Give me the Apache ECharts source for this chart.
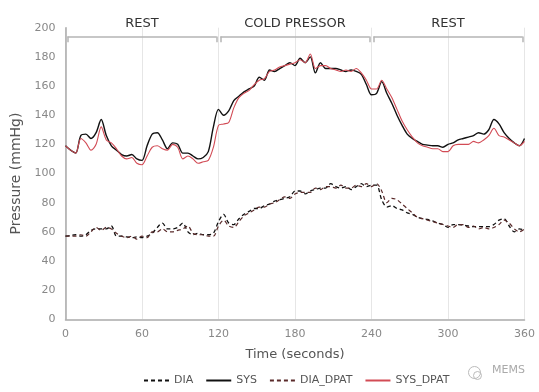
<!DOCTYPE html>
<html><head><meta charset="utf-8">
<script src="https://cdn.jsdelivr.net/npm/echarts@6/dist/echarts.min.js"></script>
<style>html,body{margin:0;padding:0;background:#fff}#c{width:539px;height:392px}</style>
</head><body><div id="c"></div>
<script>
// Sampling grid (seconds)
const times = [
  0,4,8,12,16,20,24,28,32,36,
  40,44,48,52,56,60,64,68,72,76,
  80,84,88,92,96,100,104,108,112,116,
  120,124,128,132,136,140,144,148,152,156,
  160,164,168,172,176,180,184,188,192,196,
  200,204,208,212,216,220,224,228,232,236,
  240,244,248,252,256,260,264,268,272,276,
  280,284,288,292,296,300,304,308,312,316,
  320,324,328,332,336,340,344,348,352,356,
  360];
const sys = [
  119,116,114,126,127,124,128,137,126,119,
  116,113,112,113,110,109,119,127,128,123,
  117,121,120,114,114,112,110,111,115,132,
  144,140,143,150,153,156,158,160,166,164,
  171,170,172,174,176,174,179,176,180,169,
  176,172,172,172,171,170,171,170,168,161,
  154,155,163,155,148,140,133,127,124,122,
  120,119.5,119,119,118,120,121,123,124,125,
  126,128,127,130,137,134,128,124,121,119,
  124];
const sysDpat = [
  119,116,114,124,121,116,120,132,123,121,
  117,112,110,111,107,106,112,118,119,117,
  116,120,118,110,112,110,107,108,109,118,
  133,134,135,145,152,155,157,161,164,165,
  170,171,173,174,175,176,178,176,182,172,
  174,174,172,171,170,171,170,172,169,164,
  158,158,164,158,152,144,136,130,125,121,
  119,118,117,117,115,115,119,120,120,120,
  122,121,123,126,131,126,125,123,121,119,
  122];
const dia = [
  57,57.5,58,57,58,61,62,62,62,64,
  57,57,56.5,56,56.5,56,57,59,63,66,
  62,62,63,66,60,58,59,58,58,59,
  67,72,66,65,69,72,74,76,76,78,
  79,81,82,83,84,88,88,86,88,89,
  90,90,93,91,90,91,89,91,93,91,
  92,92,82,77,78,76,75,73,72,70,
  69,68.5,67.5,66,65,63,65,65,64.5,64,
  63.5,63.5,63.5,63.5,65,68,69,64,60,62,
  61];
const diaDpat = [
  57,57,57,58,57,60,63,61,63,62,
  59,57,56,57,55,57,56,60,60,62,
  60,60,61,62,64,59,58,58,57,57,
  64,68,64,63,67,71,73,75,77,77,
  79,80,82,84,83,86,87,87,87,90,
  89,91,91,90,92,90,90,92,91,93,
  91,93,88,80,83,82,79,76,73,70,
  69,68,67,66,65,64,63,65,65,63,
  64,62,63,62,63,65,68,66,62,60,
  62];
const seriesNames = ['DIA','SYS','DIA_DPAT','SYS_DPAT'];
const phaseNames = ['REST','COLD PRESSOR','REST'];
const phaseStart = [0,120,240];
const phaseEnd = [120,240,360];
const bracketLevel = 194;
const bracketTickLevel = 190;

const FONT = 'DejaVu Sans';
const pairs = arr => times.map((t,i)=>[t, arr[i]]);

const bracketData = [];
phaseNames.forEach((name,i)=>{
  const s = phaseStart[i] + 1.5, e = phaseEnd[i] - 1.5;
  bracketData.push([{coord:[s,bracketLevel], label:{show:true, formatter:name}},{coord:[e,bracketLevel]}]);
  bracketData.push([{coord:[s,bracketLevel], label:{show:false}},{coord:[s,bracketTickLevel]}]);
  bracketData.push([{coord:[e,bracketLevel], label:{show:false}},{coord:[e,bracketTickLevel]}]);
});

const chart = echarts.init(document.getElementById('c'), null, {renderer:'canvas'});
chart.setOption({
  animation:false,
  backgroundColor:'#fff',
  textStyle:{fontFamily:FONT},
  grid:{left:65.5, right:14.5, top:27.7, bottom:72.7},
  legend:{
    data:seriesNames, left:138, top:370, itemWidth:25, itemHeight:10, itemGap:12,
    itemStyle:{color:'rgba(0,0,0,0)', borderColor:'rgba(0,0,0,0)', borderWidth:0},
    textStyle:{color:'#555', fontSize:11, fontFamily:FONT}
  },
  xAxis:{
    type:'value', min:0, max:360, interval:60,
    name:'Time (seconds)', nameLocation:'middle', nameGap:29,
    nameTextStyle:{color:'#555', fontSize:13, fontFamily:FONT},
    axisLine:{show:true, lineStyle:{color:'#aaa', width:1.5}},
    axisTick:{show:false},
    axisLabel:{color:'#888', fontSize:11, margin:9, fontFamily:FONT},
    splitLine:{show:true, lineStyle:{color:'#e6e6e6', width:1}}
  },
  yAxis:{
    type:'value', min:0, max:200, interval:20,
    name:'Pressure (mmHg)', nameLocation:'middle', nameGap:35,
    nameTextStyle:{color:'#555', fontSize:14, fontFamily:FONT},
    axisLine:{show:true, lineStyle:{color:'#aaa', width:1.5}},
    axisTick:{show:false},
    axisLabel:{color:'#888', fontSize:11, margin:10, fontFamily:FONT},
    splitLine:{show:false}
  },
  graphic:[
    {type:'circle', left:466, top:364, shape:{r:6}, style:{fill:'none', stroke:'#bbb', lineWidth:1}},
    {type:'circle', left:471, top:369, shape:{r:4}, style:{fill:'none', stroke:'#bbb', lineWidth:1}},
    {type:'text', left:492, top:365, style:{text:'MEMS', fill:'#aaa', font:'11px '+FONT}}
  ],
  series:[
    {name:'DIA', type:'line', data:pairs(dia), symbol:'none', smooth:0.3, color:'#111',
     lineStyle:{type:[4,3], width:1.3}},
    {name:'SYS', type:'line', data:pairs(sys), symbol:'none', smooth:0.3, color:'#111',
     lineStyle:{width:1.4}},
    {name:'DIA_DPAT', type:'line', data:pairs(diaDpat), symbol:'none', smooth:0.3, color:'#5a2a2a',
     lineStyle:{type:[4,3], width:1.2}},
    {name:'SYS_DPAT', type:'line', data:pairs(sysDpat), symbol:'none', smooth:0.3, color:'#d24b55',
     lineStyle:{width:1.1}},
    {name:'phases', type:'line', data:[], silent:true,
     markLine:{silent:true, symbol:['none','none'], animation:false,
       lineStyle:{color:'#b5b5b5', width:1.5, type:'solid'},
       label:{position:'middle', color:'#333', fontSize:13, fontFamily:FONT, distance:6},
       emphasis:{disabled:true},
       data:bracketData}}
  ]
});
</script></body></html>
